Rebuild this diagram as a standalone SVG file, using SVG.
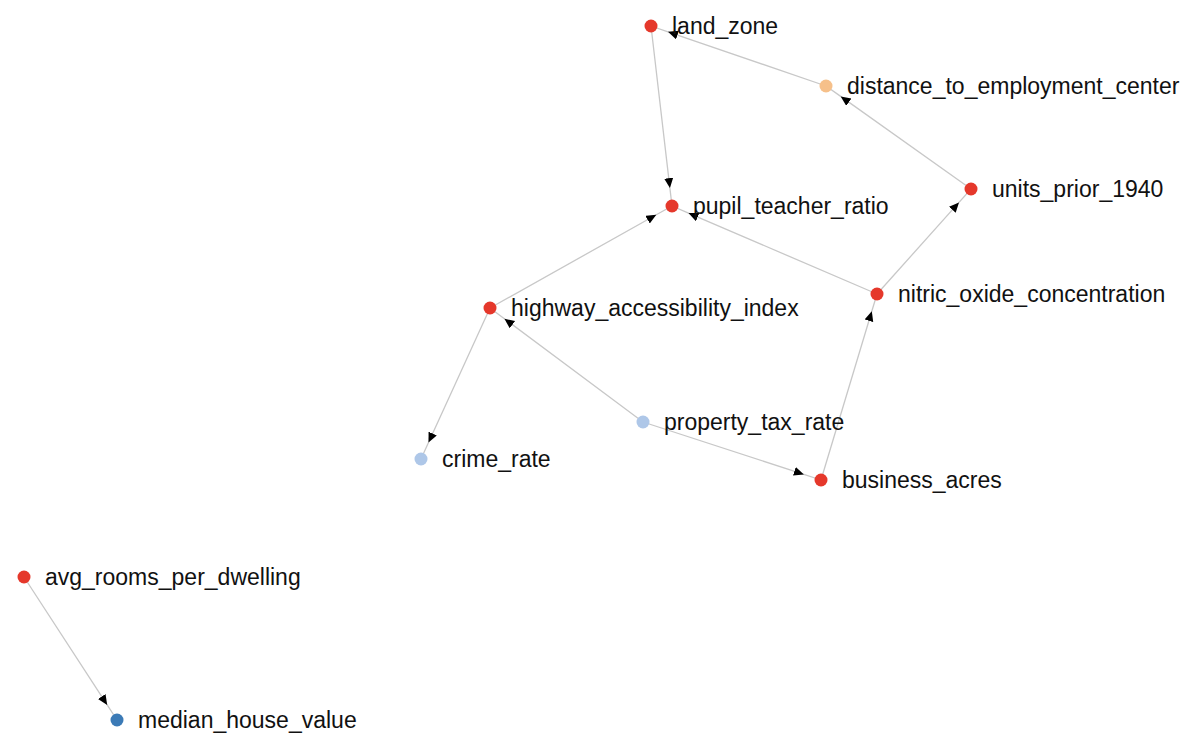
<svg xmlns="http://www.w3.org/2000/svg" width="1200" height="749" viewBox="0 0 1200 749">
<style>
.edge{fill:none;stroke:#c8c8c8;stroke-width:1.3;marker-mid:url(#arrow)}
.node circle{stroke:none}
.node text{font-family:"Liberation Sans",Arial,sans-serif;font-size:23px;fill:#111}
.red{fill:#e5382b}
.lblue{fill:#aec7e8}
.orange{fill:#f6c08a}
.dblue{fill:#3b7ab6}
</style>
<defs>
<marker id="arrow" markerUnits="userSpaceOnUse" markerWidth="12" markerHeight="10" refX="10" refY="4.5" orient="auto" viewBox="0 0 12 10">
<path d="M0,0 L10,4.5 L0,9 z" fill="#000"/>
</marker>
</defs>
<rect width="1200" height="749" fill="#fff"/>
<g id="edges">
<polyline class="edge" points="826,86 668,31.8 651,26"/>
<polyline class="edge" points="651,26 669.9,188.1 672,206"/>
<polyline class="edge" points="971,189 840.7,96.4 826,86"/>
<polyline class="edge" points="877,294 959,202.4 971,189"/>
<polyline class="edge" points="877,294 688.5,213.1 672,206"/>
<polyline class="edge" points="490,308 656.3,214.8 672,206"/>
<polyline class="edge" points="490,308 428.5,442.6 421,459"/>
<polyline class="edge" points="643,422 504.4,318.7 490,308"/>
<polyline class="edge" points="643,422 803.9,474.4 821,480"/>
<polyline class="edge" points="821,480 871.8,311.2 877,294"/>
<polyline class="edge" points="24,577 107.2,704.9 117,720"/>
</g>
<g id="node-land_zone" class="node"><circle class="red" cx="651" cy="26" r="6.5"/><text x="672" y="34">land_zone</text></g>
<g id="node-distance_to_employment_center" class="node"><circle class="orange" cx="826" cy="86" r="6.5"/><text x="847" y="94">distance_to_employment_center</text></g>
<g id="node-units_prior_1940" class="node"><circle class="red" cx="971" cy="189" r="6.5"/><text x="992" y="197">units_prior_1940</text></g>
<g id="node-pupil_teacher_ratio" class="node"><circle class="red" cx="672" cy="206" r="6.5"/><text x="693" y="214">pupil_teacher_ratio</text></g>
<g id="node-nitric_oxide_concentration" class="node"><circle class="red" cx="877" cy="294" r="6.5"/><text x="898" y="302">nitric_oxide_concentration</text></g>
<g id="node-highway_accessibility_index" class="node"><circle class="red" cx="490" cy="308" r="6.5"/><text x="511" y="316">highway_accessibility_index</text></g>
<g id="node-property_tax_rate" class="node"><circle class="lblue" cx="643" cy="422" r="6.5"/><text x="664" y="430">property_tax_rate</text></g>
<g id="node-crime_rate" class="node"><circle class="lblue" cx="421" cy="459" r="6.5"/><text x="442" y="467">crime_rate</text></g>
<g id="node-business_acres" class="node"><circle class="red" cx="821" cy="480" r="6.5"/><text x="842" y="488">business_acres</text></g>
<g id="node-avg_rooms_per_dwelling" class="node"><circle class="red" cx="24" cy="577" r="6.5"/><text x="45" y="585">avg_rooms_per_dwelling</text></g>
<g id="node-median_house_value" class="node"><circle class="dblue" cx="117" cy="720" r="6.5"/><text x="138" y="728">median_house_value</text></g>
</svg>
